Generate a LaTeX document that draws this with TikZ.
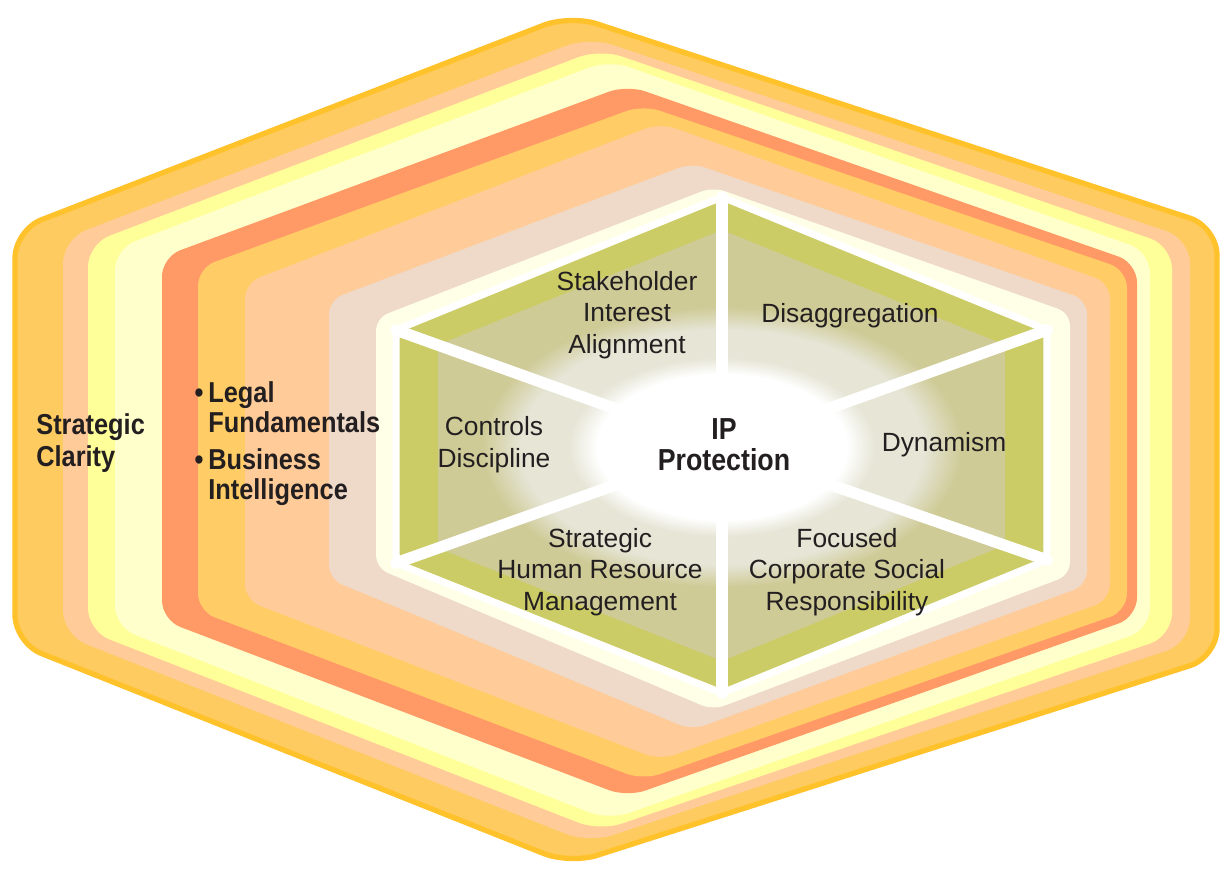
\documentclass[tikz,border=0pt]{standalone}
\usepackage{fontspec}
\setmainfont{Liberation Sans}
\newfontfamily\condsans{Liberation Sans}[FakeStretch=0.88]
\usetikzlibrary{shadings}

\definecolor{edgeyellow}{HTML}{FFC22A}
\definecolor{goldband}{HTML}{FECB60}
\definecolor{peachband}{HTML}{FFCC99}
\definecolor{lemonband}{HTML}{FFFF99}
\definecolor{creamband}{HTML}{FFFFCC}
\definecolor{orangeband}{HTML}{FF9966}
\definecolor{apricotband}{HTML}{FFCC66}
\definecolor{blushband}{HTML}{EFD9C9}
\definecolor{ivoryband}{HTML}{FFFFE8}
\definecolor{oliverim}{HTML}{CCCC66}
\definecolor{khakizone}{HTML}{CFCB97}
\definecolor{mistzone}{HTML}{E6E5D6}
\definecolor{inktext}{HTML}{231F20}

% soft white core of the inner hexagon
\pgfdeclareradialshading{coreglow}{\pgfpointorigin}{color(0bp)=(white); color(13bp)=(white);
  color(16bp)=(mistzone); color(21bp)=(mistzone); color(25bp)=(khakizone); color(50bp)=(khakizone)}

\begin{document}
\begin{tikzpicture}[x=0.02cm,y=-0.02cm,
  label text/.style={font=\fontsize{15}{18.1}\selectfont,text=inktext,align=center,inner sep=0pt},
  key text/.style={font=\condsans\bfseries\fontsize{16.4}{17}\selectfont,text=inktext,align=left,inner sep=0pt},
  spoke/.style={draw=white,line width=6.5pt,line cap=round}]

\useasboundingbox[fill=white] (0,0) rectangle (1221,869);

% outer band with its darker rim
\filldraw[fill=goldband,draw=edgeyellow,line width=3pt,rounded corners=16pt]
  (15,230) -- (570,15) -- (1217,227) -- (1217,657) -- (570,864) -- (15,643) -- cycle;

% nested bands, outside in
\foreach \col/\rc/\xl/\xr/\xt/\yt/\yb/\ylt/\ylb/\yrt/\yrb in {
  peachband/14/63/1190/589/37/843/239/635/239/643,
  lemonband/13/88/1172/600/49/831/244/631/246/636,
  creamband/12/115/1150/609/60/820/249/627/252/629,
  orangeband/11/162/1137/627/85/797/257/620/263/617,
  apricotband/10/198/1127/643/105/780/268/611/270/611,
  peachband/9/245/1110/660/123/760/283/600/283/600,
  blushband/8/329/1087/692/163/730/300/579/300/585,
  ivoryband/7/376/1070/713/187/710/318/568/313/575}
  \fill[\col,rounded corners=\rc pt] (\xl,\ylt) -- (\xt,\yt) -- (\xr,\yrt) -- (\xr,\yrb)
    -- (\xt,\yb) -- (\xl,\ylb) -- cycle;

% inner hexagon
\coordinate (ctr) at (722,447);
\coordinate (vtop) at (722,197);
\coordinate (vrt) at (1047,330);
\coordinate (vrb) at (1047,560);
\coordinate (vbot) at (722,693);
\coordinate (vlb) at (396,563);
\coordinate (vlt) at (396,330);

\filldraw[fill=oliverim,draw=white,line width=4pt,rounded corners=5pt]
  (vlt) -- (vtop) -- (vrt) -- (vrb) -- (vbot) -- (vlb) -- cycle;
\fill[khakizone,rounded corners=4pt]
  (438,345) -- (722,230) -- (1005,345) -- (1005,545) -- (722,661) -- (438,548) -- cycle;
\shade[shading=coreglow] (ctr) ellipse [x radius=240, y radius=140];

% white spokes between the six segments
\foreach \v in {vtop,vrt,vrb,vbot,vlb,vlt}
  \draw[spoke] (ctr) -- (\v);

% segment labels
\node[label text] (stake) at (627,315) {Stakeholder\\Interest\\Alignment};
\node[label text] (disagg) at (850,316) {Disaggregation};
\node[label text] (controls) at (494,445) {Controls\\Discipline};
\node[label text] (dynamism) at (944,445) {Dynamism};
\node[label text] (shrm) at (600,572) {Strategic\\Human Resource\\Management};
\node[label text] (csr) at (847,572) {Focused\\Corporate Social\\Responsibility};
\node[font=\condsans\bfseries\fontsize{17.3}{17.6}\selectfont,text=inktext,align=center,inner sep=0pt]
  (ipprot) at (724,445) {IP\\Protection};

% outer ring labels
\node[key text,anchor=west,font=\condsans\bfseries\fontsize{16.4}{18.1}\selectfont] (clarity) at (36,443) {Strategic\\Clarity};
\node[key text,anchor=west] (legal) at (208,407) {\llap{\textbullet\,}Legal\\Fundamentals};
\node[key text,anchor=west] (business) at (208,477) {\llap{\textbullet\,}Business\\Intelligence};

\end{tikzpicture}
\end{document}
